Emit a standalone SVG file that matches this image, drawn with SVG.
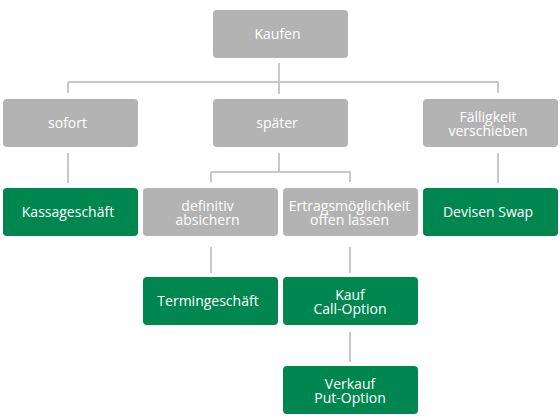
<svg xmlns="http://www.w3.org/2000/svg" width="560" height="420" viewBox="0 0 560 420">
<style>
.g rect{fill:#b3b3b3}
.k rect{fill:#00874f}
text{font-family:"Open Sans","Noto Sans","Liberation Sans",sans-serif;font-size:14px;fill:#ffffff;text-anchor:middle}
.c{stroke:#c8c8c8;stroke-width:2;fill:none}
</style>
<rect width="560" height="420" fill="#ffffff"/>
<g id="connectors" class="c">
<path d="M279 63V94M68 82H498M68 82V93M498 82V93"/>
<path d="M68 153V183"/>
<path d="M279 153V172M211 172H351M211 172V182M350 172V182"/>
<path d="M498 153V183"/>
<path d="M211 247V273"/>
<path d="M350 247V273"/>
<path d="M350 332V362"/>
</g>
<g id="kaufen" class="g"><rect x="213" y="10" width="135" height="48" rx="4"/><text x="277.5" y="39">Kaufen</text></g>
<g id="sofort" class="g"><rect x="3" y="99" width="135" height="48" rx="4"/><text x="67.5" y="128">sofort</text></g>
<g id="spaeter" class="g"><rect x="213" y="99" width="135" height="48" rx="4"/><text x="277" y="128">später</text></g>
<g id="faelligkeit" class="g"><rect x="423" y="99" width="135" height="48" rx="4"/><text x="488" y="121.5"><tspan x="488">Fälligkeit</tspan><tspan x="488" dy="14">verschieben</tspan></text></g>
<g id="kassa" class="k"><rect x="3" y="188" width="135" height="48" rx="4"/><text x="68" y="217">Kassageschäft</text></g>
<g id="definitiv" class="g"><rect x="143" y="188" width="135" height="48" rx="4"/><text x="207.5" y="211"><tspan x="207.5">definitiv</tspan><tspan x="207.5" dy="14">absichern</tspan></text></g>
<g id="ertrag" class="g"><rect x="283" y="188" width="135" height="48" rx="4"/><text x="349.5" y="211"><tspan x="349.5">Ertragsmöglichkeit</tspan><tspan x="349.5" dy="14">offen lassen</tspan></text></g>
<g id="devisen" class="k"><rect x="423" y="188" width="135" height="48" rx="4"/><text x="488" y="217">Devisen Swap</text></g>
<g id="termin" class="k"><rect x="143" y="277" width="135" height="48" rx="4"/><text x="208" y="306">Termingeschäft</text></g>
<g id="call" class="k"><rect x="283" y="277" width="135" height="48" rx="4"/><text x="350" y="299.5"><tspan x="350">Kauf</tspan><tspan x="350" dy="14">Call-Option</tspan></text></g>
<g id="put" class="k"><rect x="283" y="366" width="135" height="48" rx="4"/><text x="350" y="388.5"><tspan x="350">Verkauf</tspan><tspan x="350" dy="14">Put-Option</tspan></text></g>
</svg>
